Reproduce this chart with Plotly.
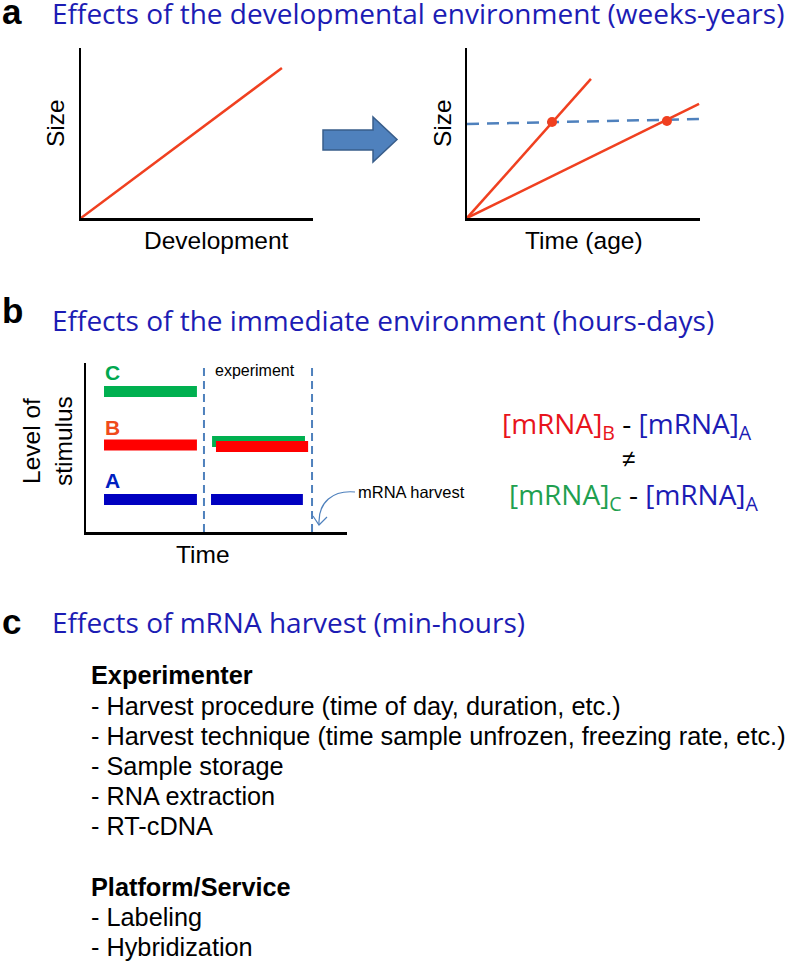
import plotly.graph_objects as go

W, H = 793, 962

# ---------------- data ----------------
# panel a (left): size vs development
dev_x = [0, 8.66]
dev_size = [0, 8.82]
# panel a (right): size vs time (age)
age_fast_x = [0, 5.32]
age_fast_size = [0, 8.18]
age_slow_x = [0, 9.96]
age_slow_size = [0, 6.71]
threshold_x = [0, 10]
threshold_size = [5.53, 5.82]
crossing_x = [3.65, 8.58]
crossing_size = [5.65, 5.71]

# panel b: stimulus levels over time
stim_groups = ["C", "B", "A"]
stim_before_start = [0.69, 0.69, 0.69]
stim_before_end = [4.25, 4.25, 4.25]
stim_before_level = [8.31, 5.15, 1.92]
stim_after_start = [4.83, 4.98, 4.79]
stim_after_end = [8.39, 8.51, 8.31]
stim_after_level = [5.35, 5.06, 1.92]
stim_label_level = [9.41, 6.21, 3.02]
phase_bounds = [4.52, 8.66]
phase_top = 9.7

# panel c text
titles = [
    "Effects of the developmental environment (weeks-years)",
    "Effects of the immediate environment (hours-days)",
    "Effects of mRNA harvest (min-hours)",
]
panel_letters = ["a", "b", "c"]
harvest_lines = [
    ("Experimenter", True),
    ("- Harvest procedure (time of day, duration, etc.)", False),
    ("- Harvest technique (time sample unfrozen, freezing rate, etc.)", False),
    ("- Sample storage", False),
    ("- RNA extraction", False),
    ("- RT-cDNA", False),
    ("", False),
    ("Platform/Service", True),
    ("- Labeling", False),
    ("- Hybridization", False),
]

# ---------------- styles ----------------
RED_LINE = "#f04020"
DASH_BLUE = "#4f81bd"
TITLE_BLUE = "#1c1cb4"
BAR_COLORS = {"C": "#00b050", "B": "#ff0000", "A": "#0000c0"}
LABEL_COLORS = {"C": "#00a84f", "B": "#f04a1a", "A": "#0020c0"}
EQ_RED = "#e8141c"
EQ_BLUE = "#1c1cb4"
EQ_GREEN = "#1fa050"
ARIAL = "Liberation Sans, Arial, sans-serif"
TITLE_FONT = "Open Sans, Lato, sans-serif"


def px(x):
    return x / W


def py(y):
    return 1 - y / H


fig = go.Figure()

# panel a left
fig.add_trace(go.Scatter(x=dev_x, y=dev_size, mode="lines",
                         line=dict(color=RED_LINE, width=2.5),
                         xaxis="x", yaxis="y", hoverinfo="skip"))
# panel a right
fig.add_trace(go.Scatter(x=threshold_x, y=threshold_size, mode="lines",
                         line=dict(color=DASH_BLUE, width=2.5, dash="12px,8px"),
                         xaxis="x2", yaxis="y2", hoverinfo="skip"))
fig.add_trace(go.Scatter(x=age_fast_x, y=age_fast_size, mode="lines",
                         line=dict(color=RED_LINE, width=2.5),
                         xaxis="x2", yaxis="y2", hoverinfo="skip"))
fig.add_trace(go.Scatter(x=age_slow_x, y=age_slow_size, mode="lines",
                         line=dict(color=RED_LINE, width=2.5),
                         xaxis="x2", yaxis="y2", hoverinfo="skip"))
fig.add_trace(go.Scatter(x=crossing_x, y=crossing_size, mode="markers",
                         marker=dict(color=RED_LINE, size=10),
                         cliponaxis=False,
                         xaxis="x2", yaxis="y2", hoverinfo="skip"))

# panel b
for xb in phase_bounds:
    fig.add_trace(go.Scatter(x=[xb, xb], y=[0, phase_top], mode="lines",
                             line=dict(color=DASH_BLUE, width=2, dash="8px,5px"),
                             xaxis="x3", yaxis="y3", hoverinfo="skip"))
for i, g in enumerate(stim_groups):
    fig.add_trace(go.Scatter(x=[stim_before_start[i], stim_before_end[i]],
                             y=[stim_before_level[i]] * 2, mode="lines",
                             line=dict(color=BAR_COLORS[g], width=11),
                             xaxis="x3", yaxis="y3", hoverinfo="skip"))
for i, g in enumerate(stim_groups):
    fig.add_trace(go.Scatter(x=[stim_after_start[i], stim_after_end[i]],
                             y=[stim_after_level[i]] * 2, mode="lines",
                             line=dict(color=BAR_COLORS[g], width=11),
                             xaxis="x3", yaxis="y3", hoverinfo="skip"))

axis_common = dict(range=[0, 10], showgrid=False, zeroline=False,
                   showticklabels=False, ticks="", showline=True,
                   linecolor="black", linewidth=2.5, fixedrange=True)

layout = dict(
    width=W, height=H, margin=dict(l=0, r=0, t=0, b=0),
    paper_bgcolor="white", plot_bgcolor="rgba(0,0,0,0)", showlegend=False,
    xaxis=dict(axis_common, domain=[px(81), px(313)], anchor="y"),
    yaxis=dict(axis_common, domain=[py(218), py(48)], anchor="x"),
    xaxis2=dict(axis_common, domain=[px(467), px(700)], anchor="y2"),
    yaxis2=dict(axis_common, domain=[py(218), py(48)], anchor="x2"),
    xaxis3=dict(axis_common, domain=[px(86), px(347)], anchor="y3"),
    yaxis3=dict(axis_common, domain=[py(532), py(363)], anchor="x3"),
)
fig.update_layout(**layout)

annotations = []


def ann(text, x, y, size, color="black", family=ARIAL, xanchor="center",
        yanchor="middle", angle=0, xref="paper", yref="paper"):
    if xref == "paper":
        x = px(x)
    if yref == "paper":
        y = py(y)
    annotations.append(dict(text=text, x=x, y=y, xref=xref, yref=yref,
                            showarrow=False, xanchor=xanchor, yanchor=yanchor,
                            textangle=angle,
                            font=dict(size=size, color=color, family=family)))


# panel letters and titles
letter_centers = [11, 310, 621]
title_centers = [13, 320, 622]
for letter, lc in zip(panel_letters, letter_centers):
    ann("<b>%s</b>" % letter, 0, lc, 35, xanchor="left")
for t, tc in zip(titles, title_centers):
    ann(t, 50, tc, 28, TITLE_BLUE, TITLE_FONT, xanchor="left")

# panel a axis labels
ann("Size", 55, 123, 24.5, angle=-90)
ann("Size", 442, 123, 24.5, angle=-90)
ann("Development", 216, 240, 24.5)
ann("Time (age)", 584, 240, 24.5)

# panel b labels
ann("Level of<br>stimulus", 47, 441, 24.5, angle=-90)
ann("Time", 203, 554, 24.5)
for i, g in enumerate(stim_groups):
    ann("<b>%s</b>" % g, 1.0, stim_label_level[i], 21, LABEL_COLORS[g],
        xref="x3", yref="y3")
ann("experiment", 6.48, 9.53, 16, xref="x3", yref="y3")
ann("mRNA harvest", 356, 492, 16.5, xanchor="left")

# equation
eq1 = ("<span style='color:%s'>[mRNA]<sub>B</sub></span>"
       "<span style='color:black'> - </span>"
       "<span style='color:%s'>[mRNA]<sub>A</sub></span>") % (EQ_RED, EQ_BLUE)
eq2 = ("<span style='color:%s'>[mRNA]<sub>C</sub></span>"
       "<span style='color:black'> - </span>"
       "<span style='color:%s'>[mRNA]<sub>A</sub></span>") % (EQ_GREEN, EQ_BLUE)
ann(eq1, 627, 425, 28, family=TITLE_FONT)
ann("≠", 628, 458, 24, family=ARIAL)
ann(eq2, 634, 496, 28, family=TITLE_FONT)

# panel c
for i, (line, bold) in enumerate(harvest_lines):
    if not line:
        continue
    baseline = 684 + i * 30.2
    txt = "<b>%s</b>" % line if bold else line
    ann(txt, 89, baseline - 8.7, 25.3, xanchor="left")

fig.update_layout(annotations=annotations)

# shapes: block arrow and curved harvest arrow
arrow_pts = [(323, 130), (373, 130), (373, 117), (397, 139.5), (373, 162),
             (373, 150), (323, 150)]
path = "M " + " L ".join("%f,%f" % (px(a), py(b)) for a, b in arrow_pts) + " Z"
shapes = [dict(type="path", path=path, xref="paper", yref="paper",
               fillcolor="#4f81bd", line=dict(color="#385d8a", width=1.5))]

curve = "M %f,%f C %f,%f %f,%f %f,%f" % (px(355), py(492), px(333), py(490),
                                         px(318), py(502), px(319), py(524))
shapes.append(dict(type="path", path=curve, xref="paper", yref="paper",
                   line=dict(color=DASH_BLUE, width=1.2)))
head = "M %f,%f L %f,%f L %f,%f" % (px(313), py(516), px(319), py(525),
                                     px(327), py(517))
shapes.append(dict(type="path", path=head, xref="paper", yref="paper",
                   line=dict(color=DASH_BLUE, width=1.2)))
fig.update_layout(shapes=shapes)

fig.write_html(
    "out.html",
    config={"displayModeBar": False, "staticPlot": True},
    post_script="document.body.style.margin='0';document.body.style.overflow='hidden';",
)
